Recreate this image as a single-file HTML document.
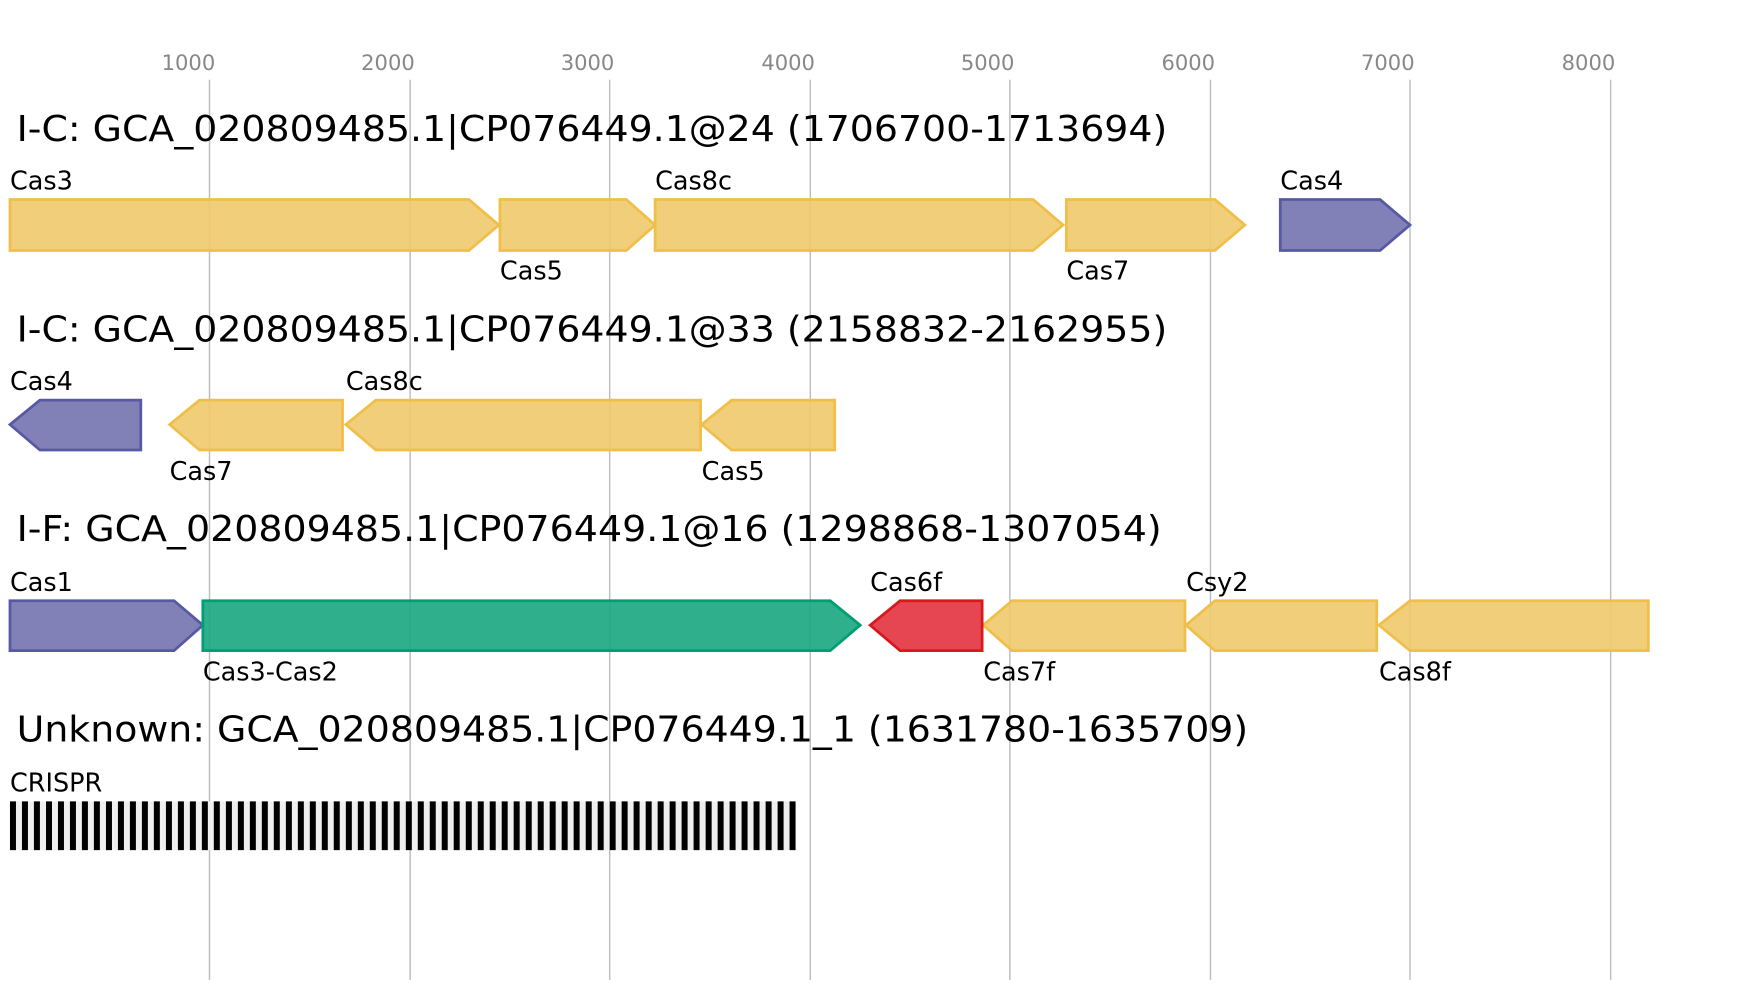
<!DOCTYPE html>
<html><head><meta charset="utf-8"><style>html,body{margin:0;padding:0;background:#fff}svg{display:block}</style></head>
<body>
<svg width="1737" height="1000" viewBox="0 0 1567 902.2" preserveAspectRatio="none" xmlns="http://www.w3.org/2000/svg" font-family="DejaVu Sans, Liberation Sans, sans-serif">
<g stroke="#bdbdbd" stroke-width="1.3">
<line x1="189" y1="72" x2="189" y2="884"/><line x1="370" y1="72" x2="370" y2="884"/>
<line x1="550" y1="72" x2="550" y2="884"/><line x1="731" y1="72" x2="731" y2="884"/>
<line x1="911" y1="72" x2="911" y2="884"/><line x1="1092" y1="72" x2="1092" y2="884"/>
<line x1="1272" y1="72" x2="1272" y2="884"/><line x1="1453" y1="72" x2="1453" y2="884"/>
</g>
<g fill="#888" font-size="19" text-anchor="middle">
<text x="170" y="63">1000</text><text x="350" y="63">2000</text><text x="530" y="63">3000</text><text x="711" y="63">4000</text>
<text x="891" y="63">5000</text><text x="1072" y="63">6000</text><text x="1252" y="63">7000</text><text x="1433" y="63">8000</text>
</g>
<g fill="#000" font-size="32">
<text x="15" y="127" textLength="1038" lengthAdjust="spacingAndGlyphs">I-C: GCA_020809485.1|CP076449.1@24 (1706700-1713694)</text>
<text x="15" y="308" textLength="1038" lengthAdjust="spacingAndGlyphs">I-C: GCA_020809485.1|CP076449.1@33 (2158832-2162955)</text>
<text x="15" y="488" textLength="1033" lengthAdjust="spacingAndGlyphs">I-F: GCA_020809485.1|CP076449.1@16 (1298868-1307054)</text>
<text x="15" y="669" textLength="1111" lengthAdjust="spacingAndGlyphs">Unknown: GCA_020809485.1|CP076449.1_1 (1631780-1635709)</text>
</g>
<g stroke-width="2.5" fill-opacity="0.9">
<g fill="#f0c96a" stroke="#efbf4a">
<polygon points="9,180 423,180 450,203 423,226 9,226"/>
<polygon points="451,180 565,180 591,203 565,226 451,226"/>
<polygon points="591,180 932,180 959,203 932,226 591,226"/>
<polygon points="962,180 1096,180 1123,203 1096,226 962,226"/>
<polygon points="153,383 180,361 309,361 309,406 180,406"/>
<polygon points="312,383 339,361 632,361 632,406 339,406"/>
<polygon points="633,383 660,361 753,361 753,406 660,406"/>
<polygon points="887,564 913,542 1069,542 1069,587 913,587"/>
<polygon points="1070,564 1096,542 1242,542 1242,587 1096,587"/>
<polygon points="1244,564 1272,542 1487,542 1487,587 1272,587"/>
</g>
<g fill="#7373b0" stroke="#5759a3">
<polygon points="1155,180 1245,180 1272,203 1245,226 1155,226"/>
<polygon points="9,383 36,361 127,361 127,406 36,406"/>
<polygon points="9,542 157,542 183,564 157,587 9,587"/>
</g>
<polygon fill="#1aa680" stroke="#009e73" points="183,542 749,542 776,564 749,587 183,587"/>
<polygon fill="#e2323e" stroke="#d7191c" points="785,564 812,542 886,542 886,587 812,587"/>
</g>
<g fill="#000" font-size="23">
<text x="9" y="171">Cas3</text><text x="451" y="252">Cas5</text><text x="591" y="171">Cas8c</text><text x="962" y="252">Cas7</text><text x="1155" y="171">Cas4</text>
<text x="9" y="352">Cas4</text><text x="153" y="433">Cas7</text><text x="312" y="352">Cas8c</text><text x="633" y="433">Cas5</text>
<text x="9" y="533">Cas1</text><text x="183" y="614">Cas3-Cas2</text><text x="785" y="533">Cas6f</text><text x="887" y="614">Cas7f</text><text x="1070" y="533">Csy2</text><text x="1244" y="614">Cas8f</text>
<text x="9" y="714">CRISPR</text>
</g>
<rect x="9" y="723" width="709" height="44" fill="#efefef"/>
<path fill="none" stroke="#000" stroke-width="5.4" d="M11.7,723v44M22.5,723v44M33.3,723v44M44.2,723v44M55,723v44M65.8,723v44M76.6,723v44M87.4,723v44M98.3,723v44M109.1,723v44M119.9,723v44M130.7,723v44M141.5,723v44M152.4,723v44M163.2,723v44M174,723v44M184.8,723v44M195.6,723v44M206.5,723v44M217.3,723v44M228.1,723v44M238.9,723v44M249.7,723v44M260.6,723v44M271.4,723v44M282.2,723v44M293,723v44M303.8,723v44M314.7,723v44M325.5,723v44M336.3,723v44M347.1,723v44M357.9,723v44M368.8,723v44M379.6,723v44M390.4,723v44M401.2,723v44M412,723v44M422.9,723v44M433.7,723v44M444.5,723v44M455.3,723v44M466.1,723v44M477,723v44M487.8,723v44M498.6,723v44M509.4,723v44M520.2,723v44M531.1,723v44M541.9,723v44M552.7,723v44M563.5,723v44M574.3,723v44M585.2,723v44M596,723v44M606.8,723v44M617.6,723v44M628.4,723v44M639.3,723v44M650.1,723v44M660.9,723v44M671.7,723v44M682.5,723v44M693.4,723v44M704.2,723v44M715,723v44"/>
</svg>
</body></html>
